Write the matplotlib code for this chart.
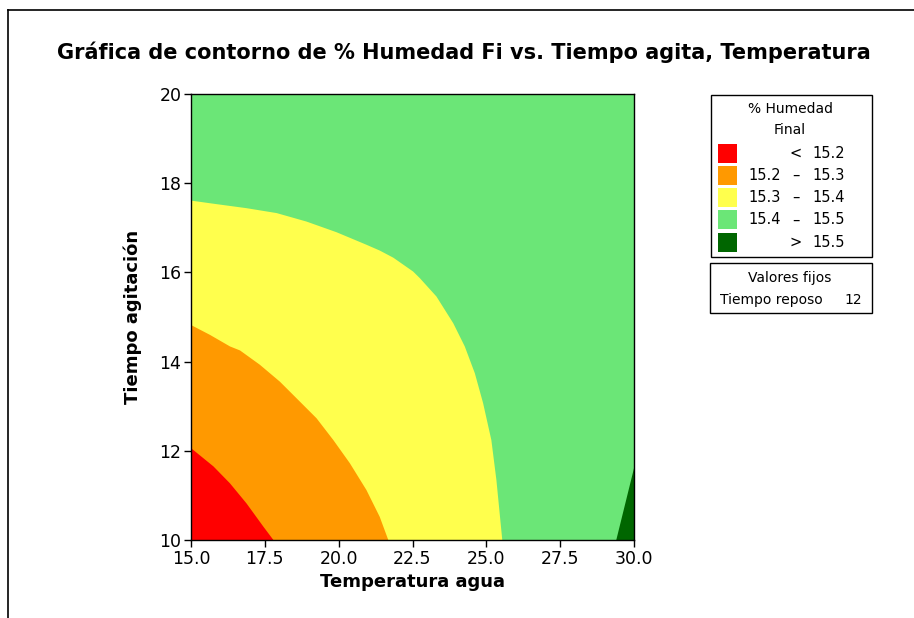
import matplotlib.pyplot as plt
import numpy as np
from matplotlib.patches import Rectangle
from matplotlib.lines import Line2D

# contour boundaries of % Humedad Final (Temperatura agua, Tiempo agitacion)
b152_x = [15.0, 15.76, 16.32, 16.88, 17.45, 17.79]
b152_y = [12.06, 11.65, 11.27, 10.82, 10.30, 10.0]

b153_x = [15.0, 15.64, 16.32, 16.66, 17.33, 18.01, 18.57, 19.25, 19.82, 20.38, 20.94, 21.39, 21.68]
b153_y = [14.82, 14.60, 14.34, 14.25, 13.93, 13.55, 13.18, 12.73, 12.24, 11.72, 11.12, 10.52, 10.0]

b154_x = [15.0, 15.76, 16.88, 17.90, 18.91, 19.93, 20.94, 21.39, 21.85, 22.52, 22.75, 23.31,
          23.88, 24.27, 24.61, 24.89, 25.17, 25.34, 25.54]
b154_y = [17.61, 17.54, 17.44, 17.33, 17.14, 16.90, 16.62, 16.49, 16.33, 16.02, 15.87, 15.46,
          14.86, 14.34, 13.74, 13.07, 12.24, 11.35, 10.0]

b155_x = [29.40, 30.0]
b155_y = [10.0, 11.61]

level_lo = ['', '15.2', '15.3', '15.4', '']
level_sym = ['<', '–', '–', '–', '>']
level_hi = ['15.2', '15.3', '15.4', '15.5', '15.5']
colors = ['#FF0000', '#FF9900', '#FFFF4D', '#6BE677', '#006600']

xticks = [15.0, 17.5, 20.0, 22.5, 25.0, 27.5, 30.0]
yticks = [10, 12, 14, 16, 18, 20]

plt.rcParams['font.family'] = ['DejaVu Sans']

fig = plt.figure(figsize=(9.14, 6.18), dpi=100)
W, H = 914, 618
ax = fig.add_axes([191 / W, (H - 540) / H, 443 / W, 446 / H])

xmin, xmax, ymin, ymax = 15, 30, 10, 20
ax.fill([xmin, xmax, xmax, xmin], [ymin, ymin, ymax, ymax], color=colors[3], lw=0)
ax.fill(b154_x + [xmin], b154_y + [ymin], color=colors[2], lw=0)
ax.fill(b153_x + [xmin], b153_y + [ymin], color=colors[1], lw=0)
ax.fill(b152_x + [xmin], b152_y + [ymin], color=colors[0], lw=0)
ax.fill(b155_x + [xmax], b155_y + [ymin], color=colors[4], lw=0)

ax.set_xlim(xmin, xmax)
ax.set_ylim(ymin, ymax)
ax.set_xticks(xticks)
ax.set_xticklabels([f'{v:.1f}' for v in xticks])
ax.set_yticks(yticks)
ax.tick_params(direction='out', length=5, width=1, labelsize=12.5, colors='black', pad=2)
for s in ax.spines.values():
    s.set_linewidth(1)
ax.set_xlabel('Temperatura agua', fontsize=13, fontweight='bold', labelpad=4)
ax.set_ylabel('Tiempo agitación', fontsize=13, fontweight='bold', labelpad=12)

fig.text(464 / W, 1 - 52 / H, 'Gráfica de contorno de % Humedad Fi vs. Tiempo agita, Temperatura',
         ha='center', va='center', fontsize=15, fontweight='bold')

# outer frame
fig.add_artist(Line2D([8 / W, 1], [1 - 10 / H, 1 - 10 / H], color='black', lw=1.2))
fig.add_artist(Line2D([8 / W, 8 / W], [1 - 10 / H, 0], color='black', lw=1.2))

def fx(px):
    return px / W

def fy(py):
    return 1 - py / H

# legend box
fig.add_artist(Rectangle((fx(711), fy(257)), 161 / W, 162 / H, fill=False, ec='black', lw=1))
fig.text(fx(790), fy(109), '% Humedad', ha='center', va='center', fontsize=10)
fig.text(fx(790), fy(130), 'Final', ha='center', va='center', fontsize=10)
for i, (lo, sym, hi, c) in enumerate(zip(level_lo, level_sym, level_hi, colors)):
    yc = 153 + i * 22.3
    fig.add_artist(Rectangle((fx(718), fy(yc + 9.5)), 19 / W, 19 / H, color=c, lw=0))
    fig.text(fx(781), fy(yc), lo, ha='right', va='center', fontsize=10.5)
    fig.text(fx(796), fy(yc), sym, ha='center', va='center', fontsize=10.5)
    fig.text(fx(845), fy(yc), hi, ha='right', va='center', fontsize=10.5)

# fixed values box
fig.add_artist(Rectangle((fx(710), fy(313)), 162 / W, 50 / H, fill=False, ec='black', lw=1))
fig.text(fx(790), fy(278), 'Valores fijos', ha='center', va='center', fontsize=10)
fig.text(fx(720), fy(300), 'Tiempo reposo', ha='left', va='center', fontsize=10)
fig.text(fx(862), fy(300), '12', ha='right', va='center', fontsize=10)

fig.savefig('out.png', dpi=100)
